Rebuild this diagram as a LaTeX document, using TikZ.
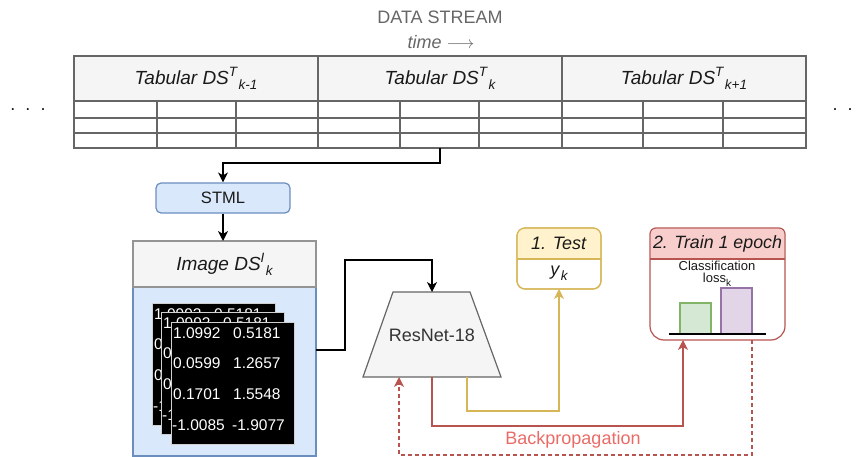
\documentclass[tikz,border=0pt]{standalone}
\usepackage{fontspec}
\setmainfont{Liberation Sans}
\usetikzlibrary{arrows.meta}
\definecolor{bordgray}{HTML}{666666}
\definecolor{hdrfill}{HTML}{F5F5F5}
\definecolor{bluefill}{HTML}{DAE8FC}
\definecolor{blueline}{HTML}{6C8EBF}
\definecolor{yelfill}{HTML}{FFF2CC}
\definecolor{yelline}{HTML}{D6B656}
\definecolor{redfill}{HTML}{F8CECC}
\definecolor{redline}{HTML}{B85450}
\definecolor{redtext}{HTML}{EA6B66}
\definecolor{grnfill}{HTML}{D5E8D4}
\definecolor{grnline}{HTML}{82B366}
\definecolor{purfill}{HTML}{E1D5E7}
\definecolor{purline}{HTML}{9673A6}
\definecolor{txtdark}{HTML}{1A1A1A}
\definecolor{layerline}{HTML}{D0D0D0}
\newcommand\fsz[1]{\fontsize{#1}{#1}\selectfont}
\newcommand\supix[1]{\raisebox{8pt}{\fsz{13.5}#1}}
\newcommand\subix[1]{\hspace{1.5pt}\raisebox{-5pt}{\fsz{13.5}#1}}
\begin{document}
\begin{tikzpicture}[x=1pt,y=-1pt,
  every node/.style={inner sep=0pt, text=txtdark},
  lbl/.style={font=\fsz{18}},
  hdrbox/.style={draw=bordgray, fill=hdrfill, line width=1.2pt, font=\fsz{19}},
  tbl/.style={draw=bordgray, line width=1.2pt},
  arr/.style={line width=1.2pt, -{Stealth[length=10pt,width=10pt,inset=3pt]}},
  layerbox/.style={draw=layerline, fill=black, line width=1pt, minimum width=123pt, minimum height=122pt},
  num/.style={text=white, font=\fsz{15.5}, anchor=west}
]
\useasboundingbox (0,0) rectangle (860,457);

% ---- title ----
\node[lbl, text=bordgray] (title) at (440,17) {DATA STREAM};
\node[lbl, text=bordgray] (timelbl) at (441,42) {\textit{time} $\longrightarrow$};

% ---- table ----
\node[hdrbox, minimum width=244pt, minimum height=45pt] (segA) at (196,78.5) {\textit{Tabular DS\supix{T}\subix{k-1}}};
\node[hdrbox, minimum width=244pt, minimum height=45pt] (segB) at (440,78.5) {\textit{Tabular DS\supix{T}\subix{k}}};
\node[hdrbox, minimum width=244pt, minimum height=45pt] (segC) at (684,78.5) {\textit{Tabular DS\supix{T}\subix{k+1}}};
\draw[tbl] (74,101) rectangle (806,148);
\foreach \yy in {118,133} \draw[tbl] (74,\yy) -- (806,\yy);
\foreach \xx in {157,236,318,400,479,562,643,723} \draw[tbl] (\xx,101) -- (\xx,148);
\coordinate (tabout) at (440,148);

% dots
\node[lbl, anchor=base] (ldots) at (28,110.5) {.\hspace{10pt}.\hspace{10pt}.};
\node[lbl, anchor=base] (rdots) at (850,110.5) {.\hspace{10pt}.\hspace{10pt}.};

% ---- STML ----
\node[draw=blueline, fill=bluefill, rounded corners=5pt, line width=1.2pt,
      minimum width=134pt, minimum height=30pt, font=\fsz{16.5}] (stml) at (223,198) {STML};

% ---- Image DS box ----
\node[draw=blueline, fill=bluefill, line width=1.2pt, minimum width=183pt, minimum height=169pt] (imgbody) at (224.5,371.5) {};
\node[hdrbox, draw=bordgray!70, minimum width=183pt, minimum height=46pt] (imghdr) at (224.5,264) {\textit{Image DS\supix{I}\subix{k}}};
\coordinate (imgout) at (316,350);

% image layers
\foreach \lx/\ly/\nm in {152/303/layA, 161/312/layB, 171/322/layC}{
  \node[layerbox, anchor=north west] (\nm) at (\lx,\ly) {};
  \node[num] at (\lx+2,\ly+11) {1.0992};
  \node[num] at (\lx+62,\ly+11) {0.5181};
  \node[num] at (\lx+2,\ly+41) {0.0599};
  \node[num] at (\lx+62,\ly+41) {1.2657};
  \node[num] at (\lx+2,\ly+72) {0.1701};
  \node[num] at (\lx+62,\ly+72) {1.5548};
  \node[num] at (\lx+1,\ly+103) {-1.0085};
  \node[num] at (\lx+61,\ly+103) {-1.9077};
}

% ---- ResNet ----
\filldraw[fill=hdrfill, draw=bordgray, line width=1.2pt] (393,292) -- (470,292) -- (501,377) -- (363,377) -- cycle;
\node[font=\fsz{18}, text=black!80] (resnet) at (432,335) {ResNet-18};
\coordinate (rntop) at (432,292);
\coordinate (rnbl) at (399,377);
\coordinate (rnbm) at (432,377);
\coordinate (rnbr) at (467,377);

% ---- Test box ----
\filldraw[fill=white, draw=yelline, line width=1.2pt, rounded corners=8pt] (517,228) rectangle (601,289);
\fill[yelfill] (517.6,259) [rounded corners=6pt]-- (517.6,228.6) -- (600.4,228.6) [sharp corners]-- (600.4,259) -- cycle;
\draw[draw=yelline, line width=1.2pt, rounded corners=8pt] (517,228) rectangle (601,289);
\draw[draw=yelline, line width=1.2pt] (517,259) -- (601,259);
\node[font=\fsz{18}] (testhdr) at (559,243.5) {\textit{1. Test}};
\node[font=\fsz{18}] (testy) at (559,273) {\textit{y\subix{k}}};
\coordinate (testbot) at (559,289);

% ---- Train box ----
\fill[white] (650,228) [rounded corners=6pt]-- (785,228) [rounded corners=14pt]-- (785,340) -- (650,340) [rounded corners=6pt]-- cycle;
\fill[redfill] (650.6,259) [rounded corners=6pt]-- (650.6,228.6) -- (784.4,228.6) [sharp corners]-- (784.4,259) -- cycle;
\draw[draw=redline, line width=1.2pt] (650,259) [rounded corners=6pt]-- (650,228) -- (785,228) [rounded corners=14pt]-- (785,340) -- (650,340) [sharp corners]-- (650,259) -- cycle;
\draw[draw=redline, line width=1.2pt] (650,259) -- (785,259);
\node[font=\fsz{17.8}] (trainhdr) at (717.5,243.5) {\textit{2. Train 1 epoch}};
\node[font=\fsz{13}] (clsl) at (717,266) {Classification};
\node[font=\fsz{13}] (lossl) at (717,280) {loss\raisebox{-0.3em}{\fsz{10}k}};
\filldraw[fill=grnfill, draw=grnline, line width=1.2pt] (680,303) rectangle (711,334);
\filldraw[fill=purfill, draw=purline, line width=1.2pt] (721,288) rectangle (752,334);
\draw[black, line width=1.2pt] (669,334) -- (766,334);
\coordinate (trainin) at (683,340);
\coordinate (trainout) at (752,340);

% ---- connectors ----
\draw[arr] (tabout) -- (440,163) -- (223,163) -- (stml.north);
\draw[arr] (stml.south) -- (223,241);
\draw[arr] (imgout) -- (345,350) -- (345,260) -- (432,260) -- (rntop);
\draw[arr, draw=yelline] (rnbr) -- (467,411) -- (559,411) -- (testbot);
\draw[arr, draw=redline] (rnbm) -- (432,426) -- (683,426) -- (trainin);
\draw[arr, draw=redline, dashed, dash pattern=on 4pt off 3pt] (trainout) -- (752,455) -- (399,455) -- (rnbl);
\node[font=\fsz{18}, text=redtext] (backprop) at (573,440) {Backpropagation};
\end{tikzpicture}
\end{document}
